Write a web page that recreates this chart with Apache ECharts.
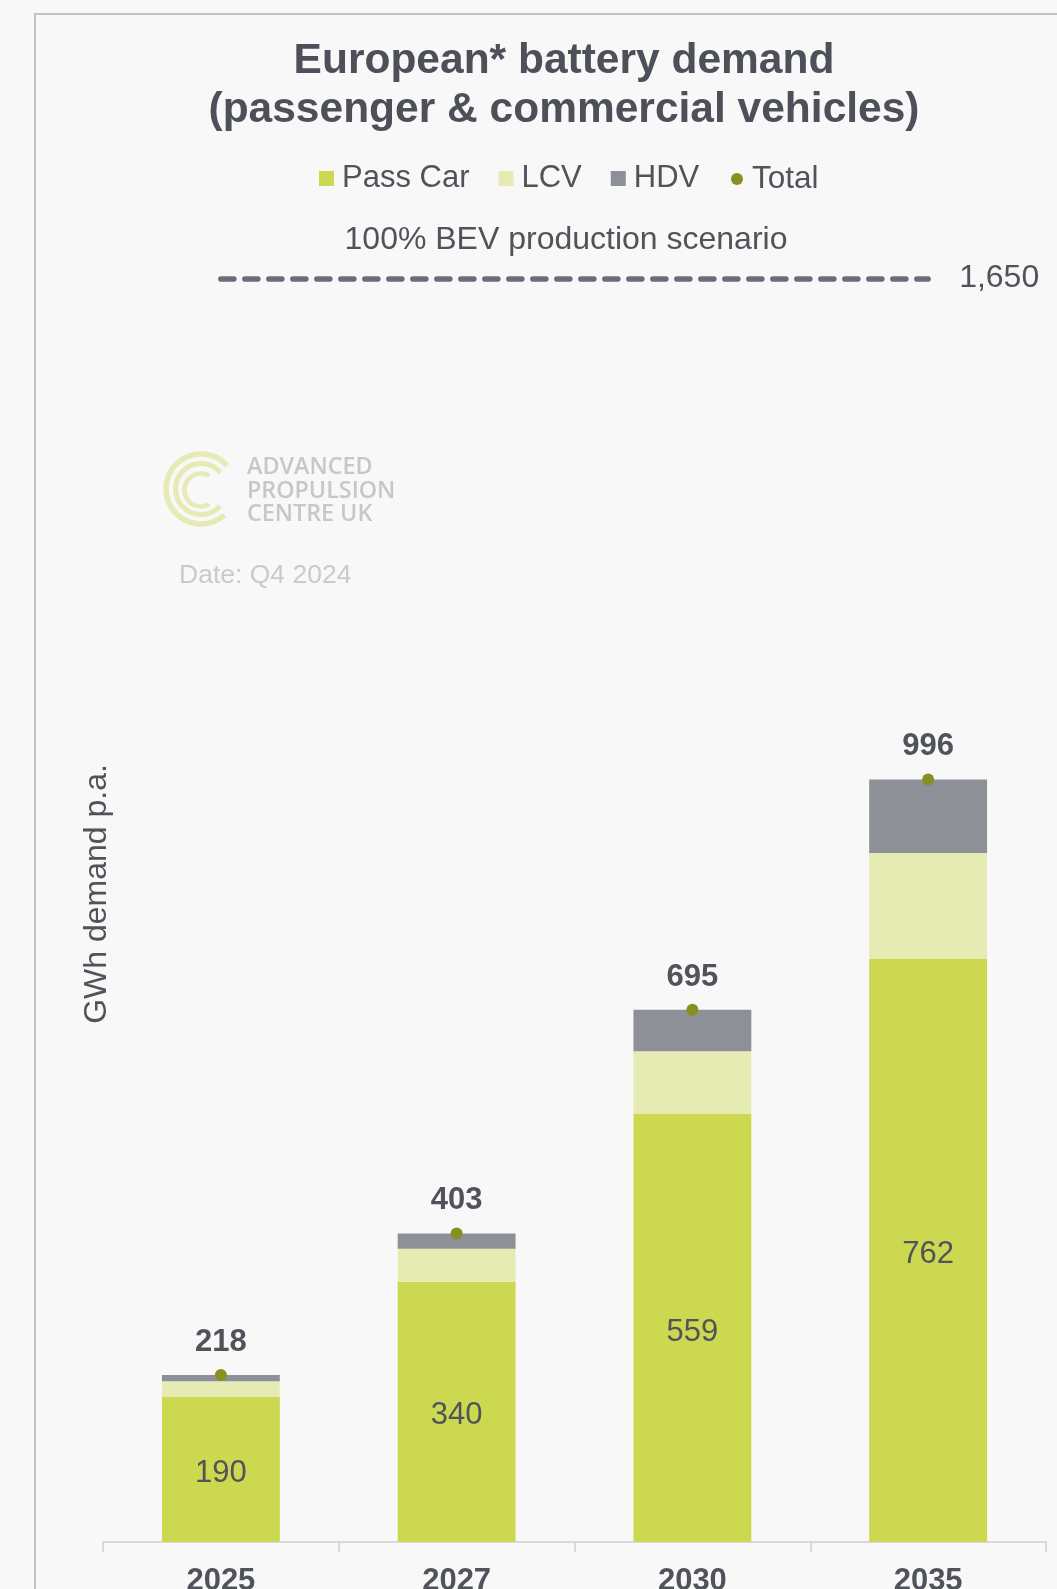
<!DOCTYPE html>
<html>
<head>
<meta charset="utf-8">
<script src="https://cdn.jsdelivr.net/npm/echarts@6/dist/echarts.min.js"></script>
<style>
  html, body { margin: 0; padding: 0; background: #f8f8f8; }
  #chart { width: 1057px; height: 1589px; }
</style>
</head>
<body>
<div id="chart"></div>
<script>
// Battery demand (GWh per year) by vehicle segment
const years = ['2025', '2027', '2030', '2035'];
const passCar = [190, 340, 559, 762];
const lcv = [20, 43, 82, 138];
const hdv = [8, 20, 54, 96];
const totals = [218, 403, 695, 996];
const scenarioLevel = 1650;
const scenarioLabel = '1,650';

const TEXT = '#50535a';
const FONT = 'Liberation Sans, Arial, sans-serif';

const chart = echarts.init(document.getElementById('chart'));

chart.setOption({
  backgroundColor: '#f8f8f8',
  animation: false,
  grid: { left: 103, right: 11, top: 248, bottom: 47, containLabel: false, outerBoundsMode: 'none' },
  legend: [
    {
      data: ['Pass Car', 'LCV', 'HDV'],
      left: 314, top: 158,
      icon: 'rect', itemWidth: 15, itemHeight: 15, itemGap: 29,
      textStyle: { fontFamily: FONT, fontSize: 31, color: TEXT, padding: [0, 0, 0, 3] },
      selectedMode: false
    },
    {
      data: ['Total'],
      left: 726, top: 158,
      icon: 'circle', itemWidth: 12, itemHeight: 12,
      textStyle: { fontFamily: FONT, fontSize: 31.5, color: TEXT, padding: [0, 0, 0, 4] },
      selectedMode: false
    }
  ],
  xAxis: {
    type: 'category',
    data: years,
    axisLine: { lineStyle: { color: '#d9d9d9', width: 2 } },
    axisTick: { show: true, length: 10, lineStyle: { color: '#d9d9d9', width: 2 } },
    axisLabel: { fontFamily: FONT, fontSize: 31, fontWeight: 'bold', color: TEXT, margin: 24 }
  },
  yAxis: {
    type: 'value',
    min: 0, max: 1690,
    axisLine: { show: false }, axisTick: { show: false },
    axisLabel: { show: false }, splitLine: { show: false }
  },
  series: [
    {
      name: 'Pass Car', type: 'bar', stack: 'demand', barWidth: '50%',
      itemStyle: { color: '#cdd851' },
      label: { show: true, position: 'inside', offset: [0, 4], fontFamily: FONT, fontSize: 31, color: TEXT },
      data: passCar
    },
    {
      name: 'LCV', type: 'bar', stack: 'demand', barWidth: '50%',
      itemStyle: { color: '#e6ebb3' },
      data: lcv
    },
    {
      name: 'HDV', type: 'bar', stack: 'demand', barWidth: '50%',
      itemStyle: { color: '#8e9098' },
      data: hdv
    },
    {
      name: 'Total', type: 'line',
      symbol: 'circle', symbolSize: 12,
      itemStyle: { color: '#88901f' },
      lineStyle: { width: 0, opacity: 0 },
      label: { show: true, position: 'top', distance: 11, fontFamily: FONT, fontSize: 31, fontWeight: 'bold', color: TEXT },
      z: 5,
      data: totals,
      markLine: {
        silent: true,
        symbol: ['none', 'none'],
        lineStyle: { color: '#6a6d77', width: 5.5, type: [13, 11], cap: 'round' },
        label: {
          show: true, position: 'end', distance: 31,
          formatter: scenarioLabel,
          fontFamily: FONT, fontSize: 32, color: TEXT
        },
        data: [[{ coord: [years[0], scenarioLevel] }, { coord: [years[years.length - 1], scenarioLevel] }]]
      }
    }
  ],
  graphic: [
    // frame
    { type: 'polyline', shape: { points: [[35, 1600], [35, 14], [1070, 14]] },
      style: { stroke: '#c4c4c4', lineWidth: 2, fill: null }, silent: true },
    // title
    { type: 'text', x: 564, y: 86, style: {
        text: 'European* battery demand\n(passenger & commercial vehicles)',
        fontFamily: FONT, fontSize: 42.5, fontWeight: 'bold', fill: '#4d5058',
        align: 'center', verticalAlign: 'middle', lineHeight: 49 } },
    // scenario caption
    { type: 'text', x: 566, y: 240, style: {
        text: '100% BEV production scenario',
        fontFamily: FONT, fontSize: 32, fill: TEXT, align: 'center', verticalAlign: 'middle' } },
    // y axis caption
    { type: 'text', x: 97, y: 894, rotation: Math.PI / 2, style: {
        text: 'GWh demand p.a.',
        fontFamily: FONT, fontSize: 32, fill: TEXT, align: 'center', verticalAlign: 'middle' } },
    // logo rings
    { type: 'arc', shape: { cx: 201, cy: 489, r: 35, startAngle: 48 * Math.PI / 180, endAngle: 318 * Math.PI / 180, clockwise: true },
      style: { stroke: '#e6eab4', lineWidth: 5.5, fill: null } },
    { type: 'arc', shape: { cx: 201, cy: 489, r: 25.5, startAngle: 42 * Math.PI / 180, endAngle: 320 * Math.PI / 180, clockwise: true },
      style: { stroke: '#e6eab4', lineWidth: 5, fill: null } },
    { type: 'arc', shape: { cx: 201, cy: 490, r: 16.5, startAngle: 60 * Math.PI / 180, endAngle: 300 * Math.PI / 180, clockwise: true },
      style: { stroke: '#e6eab4', lineWidth: 4.5, fill: null } },
    // logo wordmark
    { type: 'text', x: 247, y: 491, style: {
        text: 'ADVANCED\nPROPULSION\nCENTRE UK',
        fontFamily: '"Open Sans", Lato, sans-serif', fontSize: 23.3, fontWeight: 600, fill: '#c6c7ca',
        align: 'left', verticalAlign: 'middle', lineHeight: 23.5 } },
    // date stamp
    { type: 'text', x: 179, y: 576, style: {
        text: 'Date: Q4 2024',
        fontFamily: FONT, fontSize: 26.5, fill: '#c9cacd', align: 'left', verticalAlign: 'middle' } }
  ]
});
</script>
</body>
</html>
